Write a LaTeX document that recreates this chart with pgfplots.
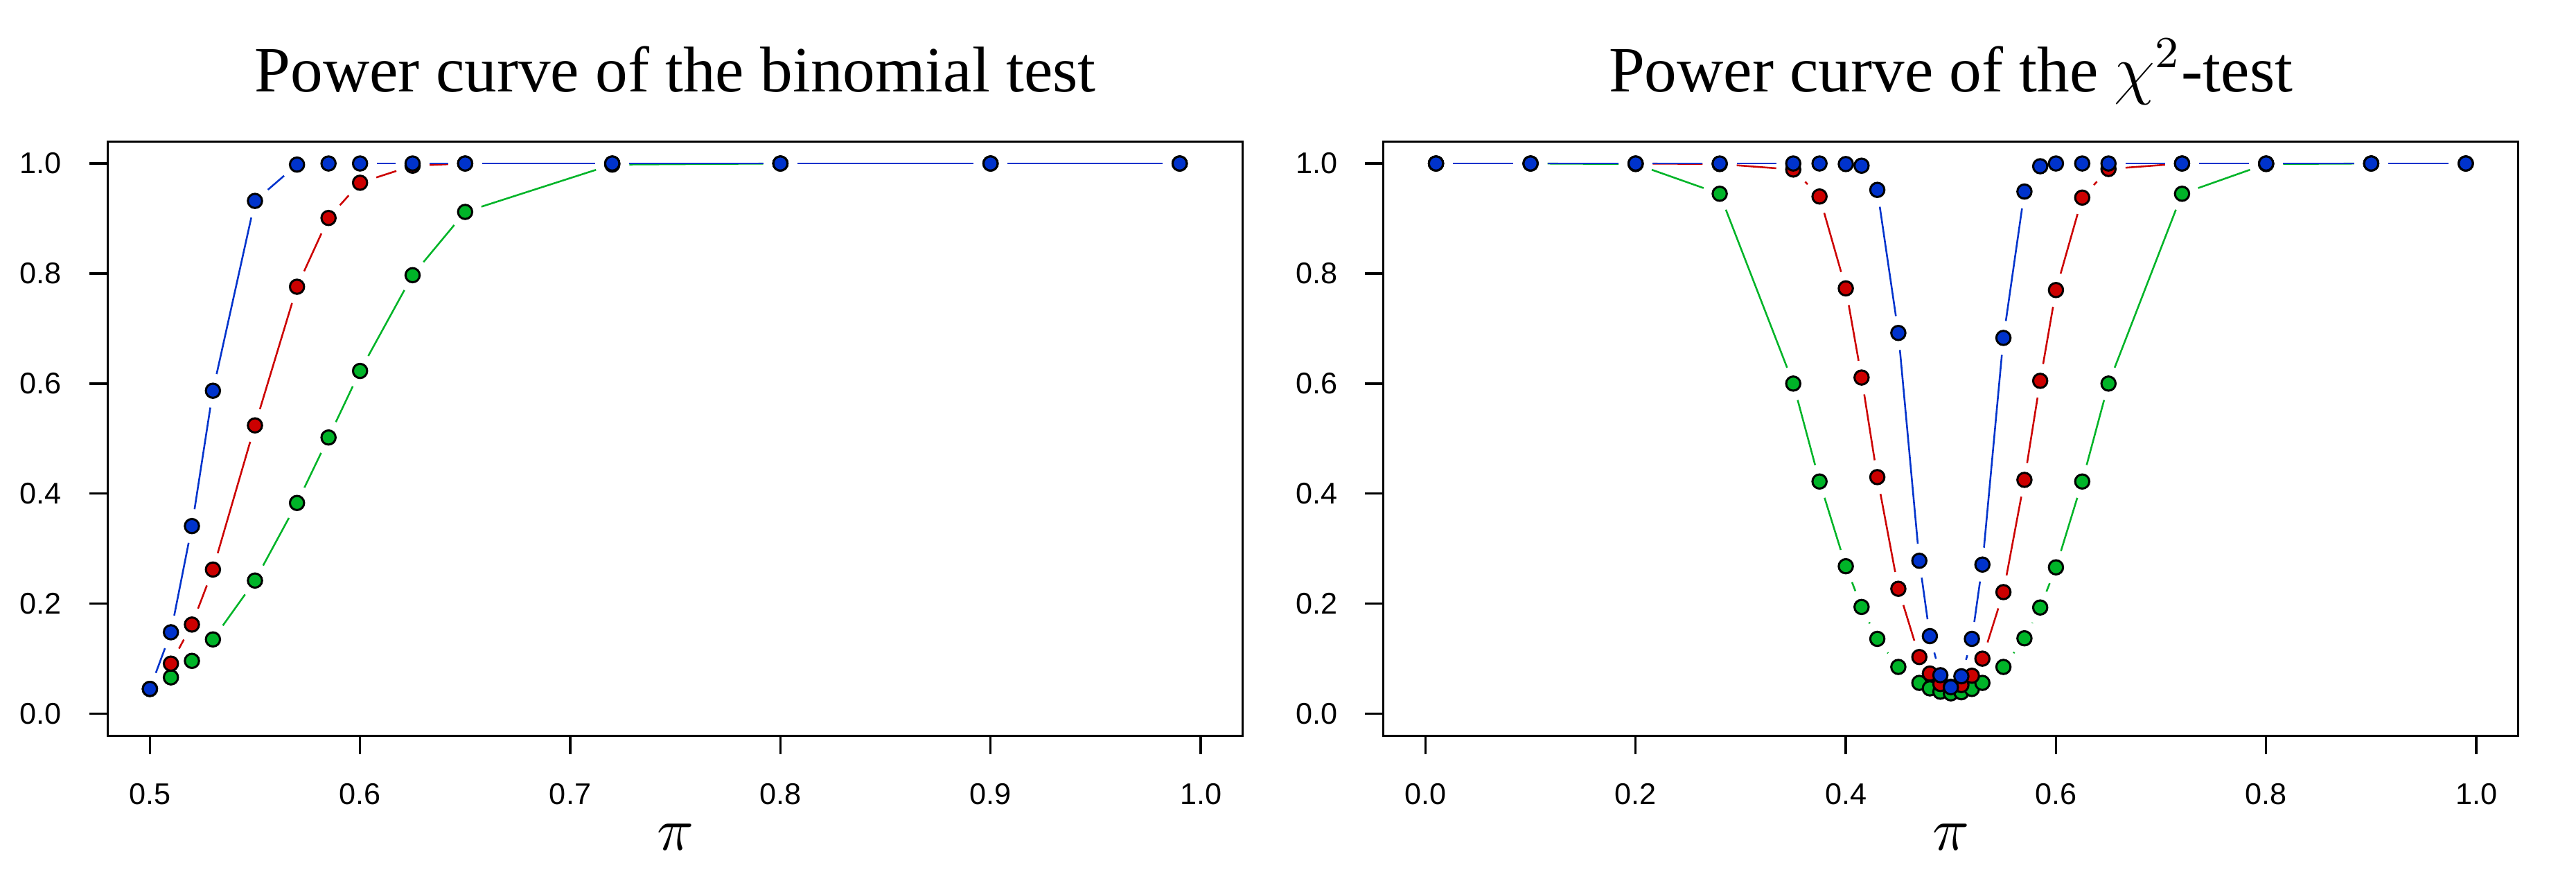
\documentclass[border=0pt]{standalone}
\usepackage{fontspec}
\usepackage{pgfplots}
\usepackage{pgfplotstable}
\pgfplotsset{compat=1.18}
\newfontfamily\tickfont{Liberation Sans}
\newfontfamily\titlefont{Liberation Serif}
\definecolor{cblue}{RGB}{0,51,204}
\definecolor{cred}{RGB}{204,0,0}
\definecolor{cgreen}{RGB}{0,180,40}

\pgfplotstableread{
x     blue   red    green
0.5   0.045  0.045  0.045
0.51  0.148  0.091  0.066
0.52  0.341  0.162  0.096
0.53  0.587  0.262  0.135
0.55  0.932  0.524  0.242
0.57  0.998  0.776  0.383
0.585 1.000  0.901  0.502
0.6   1.000  0.965  0.623
0.625 1.000  0.996  0.797
0.65  1.000  1.000  0.912
0.72  1.000  1.000  0.998
0.8   1.000  1.000  1.000
0.9   1.000  1.000  1.000
0.99  1.000  1.000  1.000
}\binomtab

\pgfplotstableread{
x     blue   red    green
0.01  1.000  1.000  1.000
0.1   1.000  1.000  1.000
0.2   1.000  1.000  0.999
0.28  1.000  0.999  0.945
0.35  1.000  0.989  0.600
0.375 1.000  0.940  0.422
0.4   0.999  0.773  0.268
0.415 0.996  0.611  0.194
0.43  0.952  0.430  0.136
0.45  0.692  0.227  0.085
0.47  0.278  0.103  0.056
0.48  0.141  0.073  0.046
0.49  0.070  0.054  0.040
0.5   0.048  0.049  0.037
0.51  0.068  0.052  0.039
0.52  0.136  0.069  0.045
0.53  0.271  0.100  0.056
0.55  0.683  0.221  0.085
0.57  0.949  0.425  0.137
0.585 0.995  0.605  0.193
0.6   1.000  0.770  0.266
0.625 1.000  0.938  0.422
0.65  1.000  0.990  0.600
0.72  1.000  1.000  0.945
0.8   1.000  1.000  0.999
0.9   1.000  1.000  1.000
0.99  1.000  1.000  1.000
}\chisqtab

% segment helpers (R type="b": lines broken around the points)
\newcommand\mkucol[1]{%
  \pgfplotstablecreatecol[create col/assign/.code={%
    \getthisrow{x}\cx \getnextrow{x}\nx
    \ifx\nx\empty \def\entry{0}\else \pgfmathsetmacro\entry{\nx-\cx}\fi
    \pgfkeyslet{/pgfplots/table/create col/next content}\entry}]{u}#1}
\newcommand\mkvcol[4]{%
  \pgfplotstablecreatecol[create col/assign/.code={%
    \getthisrow{x}\cx \getnextrow{x}\nx
    \getthisrow{#2}\cy \getnextrow{#2}\ny
    \ifx\nx\empty \def\entry{0}\else \pgfmathsetmacro\entry{\ny-\cy}\fi
    \pgfkeyslet{/pgfplots/table/create col/next content}\entry}]{v#2}#1%
  \pgfplotstablecreatecol[create col/assign/.code={%
    \getthisrow{x}\cx \getnextrow{x}\nx
    \getthisrow{#2}\cy \getnextrow{#2}\ny
    \ifx\nx\empty \def\entry{nan}\else
      \pgfmathsetmacro\seglen{sqrt(((\nx-\cx)*#3)^2+((\ny-\cy)*#4)^2)}%
      \ifdim\seglen pt>6.2pt \let\entry\cy\else\def\entry{nan}\fi
    \fi
    \pgfkeyslet{/pgfplots/table/create col/next content}\entry}]{s#2}#1}

\mkucol{\binomtab}
\mkvcol{\binomtab}{blue}{379.17}{99.306}
\mkvcol{\binomtab}{red}{379.17}{99.306}
\mkvcol{\binomtab}{green}{379.17}{99.306}
\mkucol{\chisqtab}
\mkvcol{\chisqtab}{blue}{189.58}{99.306}
\mkvcol{\chisqtab}{red}{189.58}{99.306}
\mkvcol{\chisqtab}{green}{189.58}{99.306}

\pgfplotsset{
  powerstyle/.style={
    scale only axis, width=204.75pt, height=107.25pt,
    ymin=-0.04, ymax=1.04,
    ytick={0,0.2,0.4,0.6,0.8,1},
    tick align=outside, major tick length=3.3pt,
    xtick pos=bottom, ytick pos=left,
    axis line style={line width=0.42pt},
    every tick/.style={black, line width=0.42pt},
    tick label style={font=\tickfont\fontsize{5.4}{6}\selectfont},
    /pgf/number format/fixed,
    /pgf/number format/fixed zerofill,
    /pgf/number format/precision=1,
    /pgf/number format/assume math mode=true,
    yticklabel style={anchor=east, xshift=-1.5pt},
    xticklabel style={yshift=-1.8pt},
    title style={font=\titlefont\fontsize{11.65}{13}\selectfont, anchor=base, at={(0.5,1)}, yshift=3pt},
    every axis x label/.style={at={(axis description cs:0.5,0)}, anchor=center, yshift=-18.3pt, font=\fontsize{10.7}{12}\selectfont},
    xlabel={$\pi$},
    unbounded coords=discard,
  },
  seg/.style 2 args={color=#1, line width=0.32pt,
    quiver={u=\thisrow{u}, v=\thisrow{v#2},
      every arrow/.append style={-, shorten <=3.08pt, shorten >=3.08pt}}},
  pts/.style={only marks, mark=*, mark size=1.28pt,
    mark options={draw=black, fill=#1, line width=0.38pt, solid}},
}

\begin{document}
\begin{tikzpicture}
\useasboundingbox (0,0) rectangle (464.75pt,157.625pt);
\begin{axis}[powerstyle, at={(19.46pt,24.84pt)}, anchor=south west,
  xmin=0.48, xmax=1.02, xtick={0.5,0.6,0.7,0.8,0.9,1.0},
  title={Power curve of the binomial test}]
  \addplot[seg={cgreen}{green}] table[x=x, y=sgreen] {\binomtab};
  \addplot[pts=cgreen] table[x=x, y=green] {\binomtab};
  \addplot[seg={cred}{red}] table[x=x, y=sred] {\binomtab};
  \addplot[pts=cred] table[x=x, y=red] {\binomtab};
  \addplot[seg={cblue}{blue}] table[x=x, y=sblue] {\binomtab};
  \addplot[pts=cblue] table[x=x, y=blue] {\binomtab};
\end{axis}
\begin{axis}[powerstyle, at={(249.59pt,24.84pt)}, anchor=south west,
  xmin=-0.04, xmax=1.04, xtick={0,0.2,0.4,0.6,0.8,1.0},
  title={Power curve of the $\chi^2$-test}]
  \addplot[seg={cgreen}{green}] table[x=x, y=sgreen] {\chisqtab};
  \addplot[pts=cgreen] table[x=x, y=green] {\chisqtab};
  \addplot[seg={cred}{red}] table[x=x, y=sred] {\chisqtab};
  \addplot[pts=cred] table[x=x, y=red] {\chisqtab};
  \addplot[seg={cblue}{blue}] table[x=x, y=sblue] {\chisqtab};
  \addplot[pts=cblue] table[x=x, y=blue] {\chisqtab};
\end{axis}
\end{tikzpicture}
\end{document}
